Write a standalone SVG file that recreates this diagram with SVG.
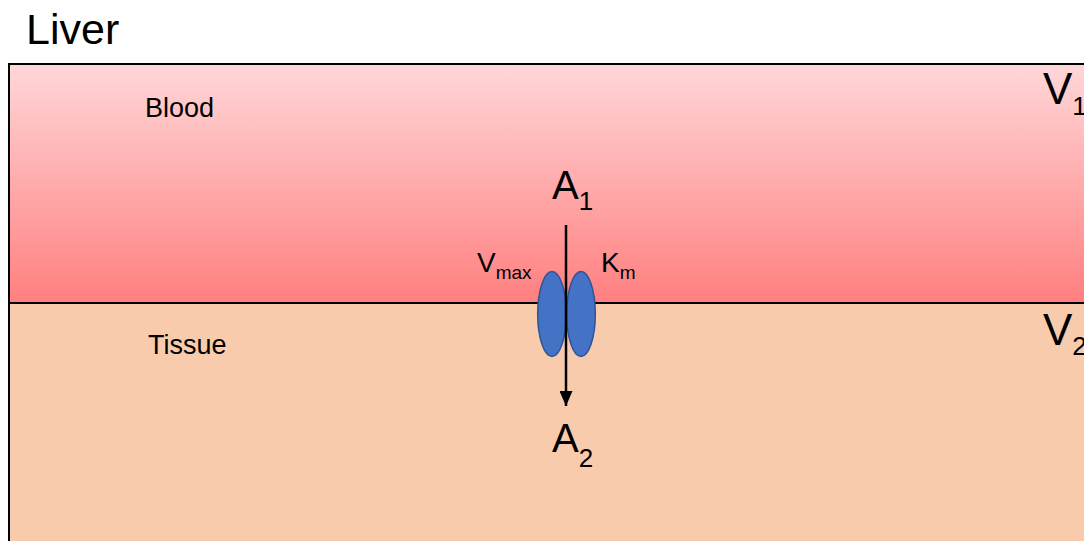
<svg xmlns="http://www.w3.org/2000/svg" width="1084" height="541" viewBox="0 0 1084 541">
<defs>
<linearGradient id="bloodGrad" x1="0" y1="0" x2="0" y2="1">
<stop offset="0" stop-color="#FFD7D9"/>
<stop offset="1" stop-color="#FF7F7F"/>
</linearGradient>
<marker id="arrowHead" markerWidth="15" markerHeight="13" refX="15" refY="6.5" orient="auto" markerUnits="userSpaceOnUse" viewBox="0 0 15 13">
<path d="M0,0 L15,6.5 L0,13 Z" fill="#000"/>
</marker>
</defs>
<style>
text{font-family:"Liberation Sans",Arial,sans-serif;fill:#000}
.title{font-size:43px}
.lbl{font-size:27px}
.big{font-size:40px}
.bigV{font-size:44px}
.sub{font-size:26px}
.mid{font-size:28px}
.msub{font-size:19px}
.transporter{fill:#4472C4;stroke:#2F5597;stroke-width:1.5}
</style>
<rect width="1084" height="541" fill="#FFFFFF"/>
<text class="title" x="26" y="44">Liver</text>
<g id="blood">
<rect x="9" y="64" width="1080" height="239" fill="url(#bloodGrad)"/>
<text class="lbl" x="145" y="117">Blood</text>
<text class="bigV" x="1043" y="104">V<tspan class="sub" dy="11">1</tspan></text>
</g>
<g id="tissue">
<rect x="9" y="303" width="1080" height="245" fill="#F8CBAD"/>
<text class="lbl" x="148" y="354">Tissue</text>
<text class="bigV" x="1043" y="345">V<tspan class="sub" dy="10">2</tspan></text>
</g>
<g id="border" fill="none" stroke="#000" stroke-width="2">
<path d="M9,548 L9,64 L1090,64"/>
<line x1="9" y1="303" x2="1090" y2="303"/>
</g>
<g id="transporter">
<ellipse class="transporter" cx="552" cy="314" rx="14.3" ry="42.5"/>
<ellipse class="transporter" cx="581" cy="314" rx="14.3" ry="42.5"/>
<text class="mid" x="477" y="272">V<tspan class="msub" dy="7">max</tspan></text>
<text class="mid" x="601" y="272">K<tspan class="msub" dy="7">m</tspan></text>
</g>
<g id="A1">
<text class="big" x="552" y="199">A<tspan class="sub" dy="11">1</tspan></text>
</g>
<g id="A2">
<text class="big" x="552" y="452">A<tspan class="sub" dy="15">2</tspan></text>
</g>
<g id="connectors">
<line x1="566" y1="225" x2="566" y2="406" stroke="#000" stroke-width="2.5" marker-end="url(#arrowHead)"/>
</g>
</svg>
